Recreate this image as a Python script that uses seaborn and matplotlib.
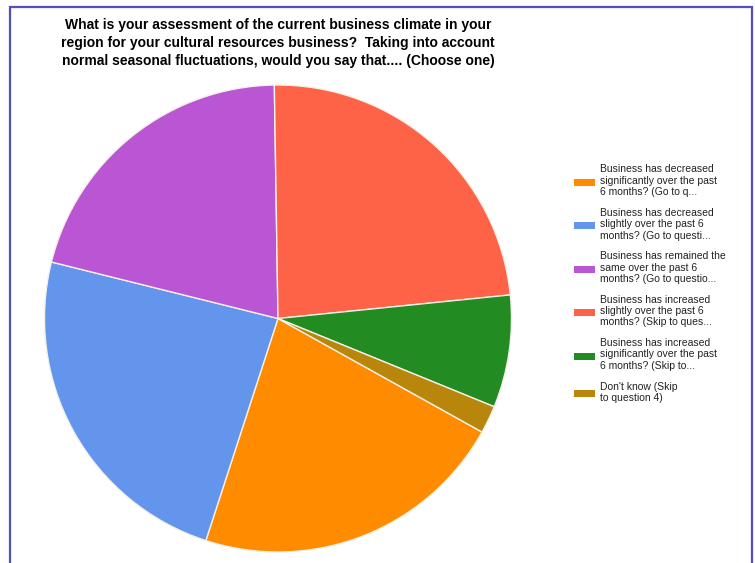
import matplotlib
matplotlib.use("Agg")
import matplotlib.pyplot as plt
from matplotlib.patches import Rectangle
import seaborn as sns

sns.set_theme(style="white")
plt.rcParams['font.family'] = ['Liberation Sans', 'DejaVu Sans']

# Data (share of responses, read as degrees of the pie)
categories = [
    "Business has decreased\nsignificantly over the past\n6 months? (Go to q...",
    "Business has decreased\nslightly over the past 6\nmonths? (Go to questi...",
    "Business has remained the\nsame over the past 6\nmonths? (Go to questio...",
    "Business has increased\nslightly over the past 6\nmonths? (Skip to ques...",
    "Business has increased\nsignificantly over the past\n6 months? (Skip to...",
    "Don't know (Skip\nto question 4)",
]
values = [78.9, 86.0, 75.1, 85.1, 28.0, 6.9]
colors = ["#FF8C00", "#6495ED", "#BA55D3", "#FF6347", "#228B22", "#B8860B"]
title = ("What is your assessment of the current business climate in your\n"
         "region for your cultural resources business?  Taking into account\n"
         "normal seasonal fluctuations, would you say that.... (Choose one)")

W, H = 755, 563
fig = plt.figure(figsize=(W / 100, H / 100), dpi=100)
fig.patch.set_facecolor("white")

# pie axes: center (278, 318.5), radius 233.5 px
cx, cy, r = 278, 318.5, 233.5
ax = fig.add_axes([(cx - r) / W, 1 - (cy + r) / H, 2 * r / W, 2 * r / H])
wedges, _ = ax.pie(values, colors=colors, startangle=90 - 119.1, counterclock=False,
                   radius=1.0, wedgeprops=dict(edgecolor="#f4f0e8", linewidth=1.0))
ax.set_xlim(-1, 1)
ax.set_ylim(-1, 1)
ax.set_aspect("equal")
ax.axis("off")

# title
fig.text(278 / W, 1 - 18.5 / H, title, ha="center", va="top", fontsize=10.0,
         fontweight="bold", linespacing=1.34, color="#000000")

# legend
for i, (lab, col) in enumerate(zip(categories, colors)):
    ytop = 164.5 + 43.4 * i
    nlines = lab.count("\n") + 1
    fig.text(600 / W, 1 - ytop / H, lab, ha="left", va="top", fontsize=7.5,
             linespacing=1.17, color="#222222")
    ymid = ytop + nlines * 11.7 / 2 + 0.5
    fig.add_artist(Rectangle((574 / W, 1 - (ymid + 3.5) / H), 21 / W, 7 / H,
                             transform=fig.transFigure, facecolor=col, edgecolor="none"))

# frame
fig.add_artist(Rectangle((10 / W, -0.01), 741.5 / W, 1 - 7 / H + 0.01,
                         transform=fig.transFigure, facecolor="none",
                         edgecolor="#5050c0", linewidth=1.6))

fig.savefig("out.png", dpi=100)
